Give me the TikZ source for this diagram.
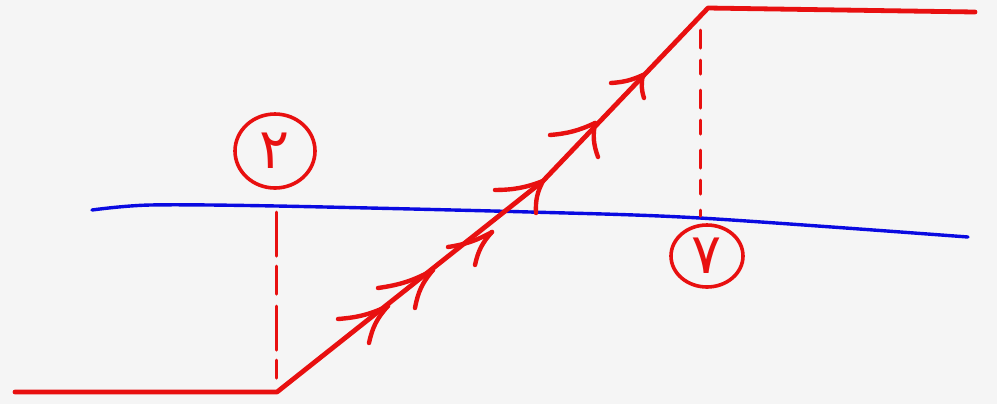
\documentclass[tikz,border=0pt]{standalone}
\usepackage{fontspec}
\usetikzlibrary{shapes.geometric}
\TeXXeTstate=1
\newfontfamily\arabicfont[Script=Arabic]{DejaVu Sans}
\definecolor{pen}{RGB}{232,16,16}
\definecolor{bluepen}{RGB}{10,10,225}
\definecolor{paper}{RGB}{245,245,245}
\tikzset{
  redline/.style={draw=pen, line width=2.4pt, line cap=round, line join=round},
  chev/.style={draw=pen, line width=2.2pt, line cap=round},
  guide/.style={draw=pen, line width=1.5pt, line cap=round},
  label/.style={ellipse, draw=pen, line width=1.8pt, text=pen, inner sep=0pt,
    font=\arabicfont\fontsize{28}{28}\selectfont}
}
\begin{document}
\begin{tikzpicture}[x=0.5pt,y=-0.5pt]
\fill[paper] (0,0) rectangle (997,404);
\useasboundingbox (0,0) rectangle (997,404);
% blue line
\draw[bluepen, line width=1.7pt, line cap=round]
  plot[smooth] coordinates {(92,210) (150,205) (277,206) (530,212) (700,218) (968,237)};
% red profile
\coordinate (L0) at (15,392);
\coordinate (A) at (277,392);
\coordinate (M) at (543,181);
\coordinate (B) at (708,8);
\coordinate (R) at (975,12);
\draw[redline] (L0) -- (A) -- (M) -- (B) -- (R);
% dashed guides
\coordinate (g1t) at (276,212);
\coordinate (g1b) at (276,378);
\coordinate (g2t) at (700,30);
\coordinate (g2b) at (700,216);
\draw[guide, dash pattern=on 22pt off 5pt on 14pt off 6pt] (g1t) -- (g1b);
\draw[guide, dash pattern=on 9pt off 6pt on 7pt off 8pt] (g2t) -- (g2b);
% chevrons
\foreach \tx/\ty/\ax/\ay/\bx/\by in {
  388/306/-50/13/-19/37,
  433/270/-55/18/-18/38,
  492/232/-44/15/-17/33,
  543/181/-48/9/-7/32,
  595/123/-45/12/3/34,
  643/75/-32/8/1/23}{
  \coordinate (ct) at (\tx,\ty);
  \draw[chev] (ct) to[bend left=10] ++(\ax,\ay);
  \draw[chev] (ct) to[bend right=15] ++(\bx,\by);
}
% labels
\node[label, minimum width=40pt, minimum height=37pt] (n2) at (275,151) {\beginR ۲\endR};
\node[label, minimum width=36pt, minimum height=31pt] (n7) at (707,256) {\beginR ۷\endR};
\end{tikzpicture}
\end{document}
